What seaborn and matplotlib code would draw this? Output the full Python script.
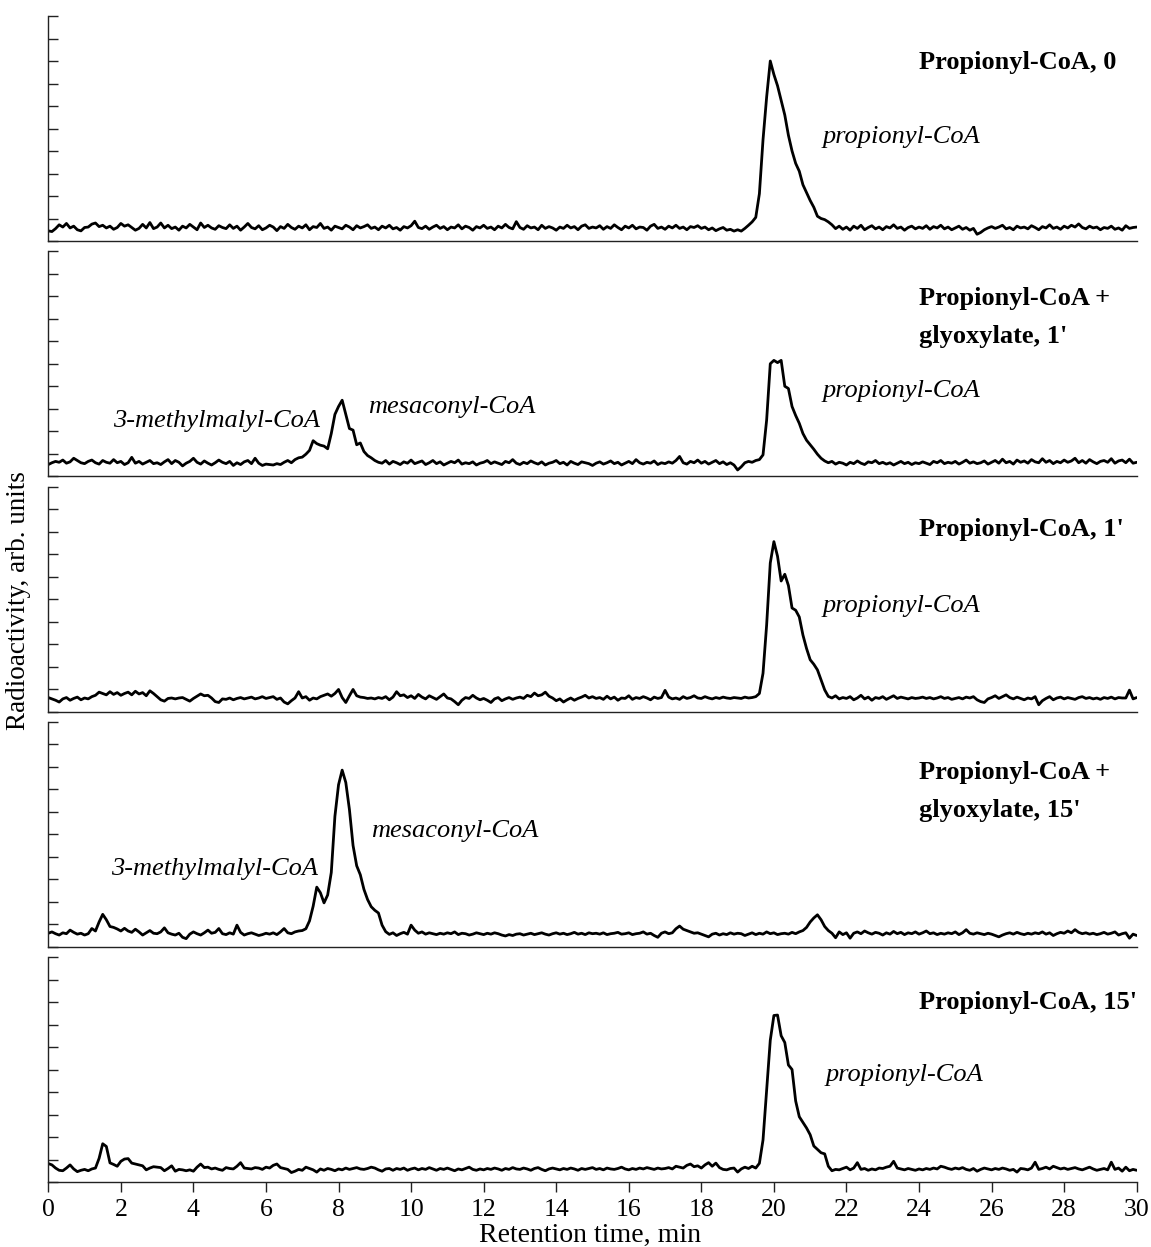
import numpy as np
import pandas as pd
import matplotlib
matplotlib.use("Agg")
import matplotlib.pyplot as plt
import seaborn as sns

# ---------------- data ----------------
time_min = np.round(np.arange(301) * 0.1, 1)   # retention time grid, min
x_ticks = list(range(0, 31, 2))

panel_titles = [
    ["Propionyl-CoA, 0"],
    ["Propionyl-CoA +", "glyoxylate, 1'"],
    ["Propionyl-CoA, 1'"],
    ["Propionyl-CoA +", "glyoxylate, 15'"],
    ["Propionyl-CoA, 15'"],
]

trace_p0 = [
    0.45, 0.42, 0.55, 0.72, 0.62, 0.78, 0.58, 0.66, 0.50, 0.45,
    0.60, 0.62, 0.75, 0.80, 0.64, 0.70, 0.58, 0.66, 0.52, 0.60,
    0.78, 0.66, 0.72, 0.60, 0.48, 0.56, 0.74, 0.58, 0.82, 0.55,
    0.62, 0.80, 0.58, 0.70, 0.55, 0.62, 0.48, 0.66, 0.58, 0.74,
    0.62, 0.50, 0.80, 0.60, 0.70, 0.58, 0.52, 0.68, 0.60, 0.55,
    0.72, 0.56, 0.66, 0.48, 0.62, 0.78, 0.60, 0.54, 0.68, 0.50,
    0.58, 0.70, 0.62, 0.46, 0.64, 0.56, 0.74, 0.60, 0.52, 0.66,
    0.58, 0.72, 0.50, 0.64, 0.60, 0.78, 0.56, 0.62, 0.48, 0.66,
    0.60, 0.54, 0.70, 0.62, 0.50, 0.68, 0.58, 0.64, 0.72, 0.56,
    0.62, 0.50, 0.66, 0.58, 0.70, 0.54, 0.60, 0.48, 0.64, 0.58,
    0.68, 0.88, 0.60, 0.55, 0.66, 0.52, 0.62, 0.70, 0.56, 0.64,
    0.50, 0.62, 0.58, 0.72, 0.54, 0.66, 0.60, 0.48, 0.64, 0.58,
    0.70, 0.56, 0.62, 0.50, 0.66, 0.58, 0.74, 0.60, 0.54, 0.86,
    0.60, 0.52, 0.68, 0.58, 0.62, 0.50, 0.70, 0.56, 0.64, 0.58,
    0.48, 0.62, 0.56, 0.70, 0.58, 0.64, 0.50, 0.66, 0.72, 0.56,
    0.62, 0.58, 0.68, 0.52, 0.64, 0.56, 0.72, 0.60, 0.50, 0.66,
    0.58, 0.70, 0.54, 0.62, 0.60, 0.48, 0.66, 0.74, 0.56, 0.62,
    0.52, 0.66, 0.58, 0.70, 0.56, 0.62, 0.50, 0.64, 0.60, 0.68,
    0.56, 0.62, 0.50, 0.58, 0.46, 0.54, 0.60, 0.48, 0.52, 0.44,
    0.50, 0.44, 0.56, 0.70, 0.85, 1.05, 2.10, 4.50, 6.40, 8.00,
    7.40, 6.90, 6.25, 5.60, 4.70, 4.00, 3.45, 3.10, 2.50, 2.15,
    1.80, 1.50, 1.10, 1.00, 0.95, 0.85, 0.72, 0.55, 0.66, 0.52,
    0.62, 0.48, 0.66, 0.56, 0.70, 0.50, 0.60, 0.68, 0.54, 0.62,
    0.50, 0.64, 0.58, 0.72, 0.56, 0.62, 0.48, 0.60, 0.66, 0.54,
    0.62, 0.56, 0.68, 0.52, 0.64, 0.58, 0.70, 0.54, 0.62, 0.50,
    0.58, 0.66, 0.52, 0.60, 0.48, 0.56, 0.30, 0.38, 0.50, 0.58,
    0.64, 0.56, 0.62, 0.70, 0.54, 0.60, 0.50, 0.66, 0.58, 0.62,
    0.54, 0.68, 0.60, 0.50, 0.64, 0.58, 0.72, 0.56, 0.62, 0.52,
    0.66, 0.58, 0.70, 0.62, 0.76, 0.60, 0.54, 0.66, 0.58, 0.62,
    0.50, 0.60, 0.56, 0.66, 0.52, 0.58, 0.48, 0.68, 0.56, 0.60,
    0.62,
]

trace_p1 = [
    0.52, 0.60, 0.66, 0.62, 0.72, 0.58, 0.64, 0.80, 0.70, 0.60,
    0.56, 0.66, 0.72, 0.60, 0.54, 0.70, 0.62, 0.58, 0.74, 0.60,
    0.66, 0.52, 0.60, 0.84, 0.58, 0.66, 0.54, 0.62, 0.70, 0.56,
    0.60, 0.52, 0.64, 0.74, 0.56, 0.70, 0.62, 0.46, 0.58, 0.66,
    0.80, 0.62, 0.54, 0.68, 0.58, 0.50, 0.60, 0.72, 0.62, 0.56,
    0.66, 0.48, 0.60, 0.52, 0.64, 0.70, 0.56, 0.80, 0.58, 0.48,
    0.54, 0.52, 0.50, 0.56, 0.52, 0.62, 0.70, 0.60, 0.74, 0.82,
    0.85, 0.98, 1.15, 1.58, 1.45, 1.38, 1.34, 1.22, 1.90, 2.75,
    3.10, 3.38, 2.75, 2.12, 2.05, 1.40, 1.48, 1.10, 0.92, 0.82,
    0.70, 0.62, 0.58, 0.70, 0.54, 0.66, 0.60, 0.52, 0.64, 0.58,
    0.72, 0.56, 0.62, 0.68, 0.52, 0.60, 0.70, 0.56, 0.64, 0.50,
    0.58, 0.66, 0.60, 0.72, 0.54, 0.60, 0.56, 0.64, 0.50, 0.58,
    0.62, 0.70, 0.56, 0.64, 0.58, 0.52, 0.66, 0.60, 0.74, 0.58,
    0.52, 0.62, 0.56, 0.68, 0.60, 0.54, 0.64, 0.50, 0.58, 0.62,
    0.70, 0.56, 0.62, 0.50, 0.66, 0.58, 0.52, 0.64, 0.60, 0.56,
    0.48, 0.58, 0.64, 0.54, 0.60, 0.68, 0.56, 0.62, 0.50, 0.58,
    0.66, 0.56, 0.74, 0.60, 0.54, 0.62, 0.58, 0.68, 0.52, 0.60,
    0.56, 0.64, 0.58, 0.70, 0.88, 0.60, 0.54, 0.66, 0.60, 0.72,
    0.58, 0.66, 0.54, 0.62, 0.70, 0.56, 0.64, 0.52, 0.60, 0.50,
    0.28, 0.42, 0.60, 0.66, 0.62, 0.70, 0.74, 0.95, 2.50, 5.00,
    5.15, 5.05, 5.15, 4.00, 3.90, 3.10, 2.70, 2.35, 1.90, 1.60,
    1.40, 1.20, 0.98, 0.80, 0.68, 0.60, 0.66, 0.54, 0.62, 0.58,
    0.50, 0.62, 0.56, 0.68, 0.58, 0.52, 0.64, 0.60, 0.70, 0.56,
    0.62, 0.54, 0.60, 0.50, 0.58, 0.66, 0.56, 0.62, 0.52, 0.60,
    0.56, 0.64, 0.58, 0.52, 0.66, 0.60, 0.70, 0.56, 0.62, 0.58,
    0.66, 0.54, 0.62, 0.72, 0.58, 0.64, 0.56, 0.60, 0.68, 0.54,
    0.62, 0.70, 0.58, 0.76, 0.60, 0.66, 0.54, 0.72, 0.62, 0.68,
    0.58, 0.74, 0.64, 0.60, 0.78, 0.62, 0.70, 0.56, 0.66, 0.60,
    0.72, 0.62, 0.68, 0.80, 0.60, 0.70, 0.58, 0.74, 0.64, 0.56,
    0.66, 0.70, 0.62, 0.78, 0.58, 0.68, 0.72, 0.60, 0.76, 0.58,
    0.62,
]

trace_p2 = [
    0.62, 0.56, 0.50, 0.42, 0.56, 0.62, 0.50, 0.58, 0.64, 0.52,
    0.60, 0.56, 0.66, 0.72, 0.86, 0.80, 0.74, 0.88, 0.76, 0.84,
    0.72, 0.80, 0.86, 0.74, 0.90, 0.78, 0.84, 0.70, 0.92, 0.80,
    0.66, 0.52, 0.46, 0.58, 0.60, 0.56, 0.60, 0.62, 0.54, 0.46,
    0.58, 0.68, 0.78, 0.70, 0.72, 0.60, 0.44, 0.40, 0.56, 0.54,
    0.60, 0.52, 0.58, 0.62, 0.56, 0.60, 0.64, 0.56, 0.60, 0.66,
    0.58, 0.62, 0.66, 0.54, 0.60, 0.42, 0.34, 0.48, 0.60, 0.88,
    0.60, 0.66, 0.50, 0.60, 0.56, 0.66, 0.72, 0.78, 0.68, 0.80,
    0.98, 0.62, 0.40, 0.70, 0.98, 0.70, 0.64, 0.62, 0.58, 0.60,
    0.56, 0.62, 0.58, 0.66, 0.52, 0.64, 0.88, 0.70, 0.74, 0.62,
    0.70, 0.58, 0.76, 0.64, 0.56, 0.70, 0.62, 0.54, 0.66, 0.78,
    0.60, 0.56, 0.44, 0.30, 0.50, 0.62, 0.58, 0.72, 0.60, 0.52,
    0.58, 0.50, 0.40, 0.56, 0.62, 0.48, 0.56, 0.62, 0.54, 0.60,
    0.64, 0.58, 0.72, 0.66, 0.82, 0.70, 0.74, 0.86, 0.68, 0.60,
    0.48, 0.56, 0.42, 0.52, 0.60, 0.50, 0.58, 0.64, 0.72, 0.60,
    0.66, 0.58, 0.62, 0.54, 0.68, 0.56, 0.64, 0.50, 0.60, 0.58,
    0.70, 0.54, 0.62, 0.58, 0.66, 0.60, 0.52, 0.64, 0.58, 0.62,
    0.94, 0.64, 0.56, 0.60, 0.54, 0.66, 0.58, 0.62, 0.70, 0.60,
    0.58, 0.66, 0.60, 0.56, 0.62, 0.58, 0.64, 0.60, 0.58, 0.62,
    0.60, 0.58, 0.64, 0.60, 0.62, 0.66, 0.80, 1.70, 3.85, 6.60,
    7.55, 6.90, 5.80, 6.10, 5.60, 4.60, 4.50, 4.20, 3.40, 2.80,
    2.30, 2.10, 1.85, 1.40, 0.96, 0.67, 0.60, 0.70, 0.56, 0.62,
    0.58, 0.66, 0.52, 0.60, 0.72, 0.56, 0.64, 0.50, 0.62, 0.58,
    0.66, 0.54, 0.62, 0.70, 0.58, 0.64, 0.60, 0.56, 0.62, 0.58,
    0.60, 0.64, 0.58, 0.62, 0.56, 0.60, 0.66, 0.58, 0.62, 0.54,
    0.58, 0.62, 0.56, 0.64, 0.60, 0.66, 0.52, 0.44, 0.40, 0.56,
    0.62, 0.70, 0.58, 0.66, 0.74, 0.62, 0.56, 0.64, 0.58, 0.52,
    0.60, 0.56, 0.66, 0.30, 0.48, 0.58, 0.66, 0.52, 0.60, 0.64,
    0.56, 0.62, 0.58, 0.54, 0.62, 0.66, 0.58, 0.62, 0.56, 0.60,
    0.54, 0.62, 0.58, 0.64, 0.56, 0.62, 0.60, 0.60, 0.95, 0.56,
    0.62,
]

trace_p3 = [
    0.60, 0.66, 0.58, 0.52, 0.62, 0.58, 0.74, 0.64, 0.56, 0.60,
    0.52, 0.58, 0.81, 0.70, 1.10, 1.44, 1.20, 0.90, 0.86, 0.79,
    0.70, 0.82, 0.70, 0.64, 0.78, 0.66, 0.52, 0.62, 0.72, 0.60,
    0.58, 0.66, 0.84, 0.62, 0.56, 0.52, 0.60, 0.42, 0.36, 0.56,
    0.66, 0.58, 0.52, 0.62, 0.74, 0.60, 0.64, 0.81, 0.58, 0.54,
    0.62, 0.56, 0.96, 0.64, 0.52, 0.58, 0.62, 0.56, 0.50, 0.54,
    0.60, 0.56, 0.62, 0.54, 0.66, 0.81, 0.62, 0.58, 0.66, 0.70,
    0.72, 0.80, 1.15, 1.80, 2.65, 2.40, 1.95, 2.30, 3.30, 5.80,
    7.20, 7.85, 7.30, 6.10, 4.50, 3.60, 3.20, 2.55, 2.10, 1.78,
    1.62, 1.50, 0.96, 0.67, 0.55, 0.62, 0.50, 0.58, 0.64, 0.56,
    0.96, 0.74, 0.60, 0.66, 0.56, 0.62, 0.58, 0.54, 0.60, 0.56,
    0.62, 0.58, 0.66, 0.54, 0.60, 0.58, 0.52, 0.56, 0.62, 0.58,
    0.54, 0.60, 0.56, 0.62, 0.58, 0.52, 0.48, 0.54, 0.50, 0.56,
    0.58, 0.52, 0.56, 0.60, 0.54, 0.58, 0.62, 0.56, 0.52, 0.58,
    0.62, 0.56, 0.60, 0.54, 0.58, 0.64, 0.56, 0.60, 0.54, 0.62,
    0.58, 0.60, 0.56, 0.62, 0.54, 0.58, 0.60, 0.64, 0.56, 0.58,
    0.62, 0.54, 0.58, 0.60, 0.66, 0.56, 0.60, 0.50, 0.42, 0.60,
    0.66, 0.58, 0.62, 0.80, 0.92, 0.78, 0.72, 0.66, 0.60, 0.62,
    0.56, 0.50, 0.44, 0.56, 0.60, 0.52, 0.58, 0.54, 0.62, 0.56,
    0.60, 0.58, 0.50, 0.56, 0.62, 0.54, 0.60, 0.56, 0.66, 0.58,
    0.62, 0.54, 0.58, 0.60, 0.56, 0.64, 0.58, 0.66, 0.72, 0.86,
    1.10, 1.28, 1.42, 1.20, 0.90, 0.72, 0.60, 0.40, 0.66, 0.54,
    0.62, 0.38, 0.60, 0.66, 0.58, 0.70, 0.62, 0.56, 0.64, 0.60,
    0.52, 0.62, 0.56, 0.68, 0.58, 0.64, 0.54, 0.62, 0.58, 0.66,
    0.56, 0.62, 0.70, 0.58, 0.62, 0.54, 0.60, 0.56, 0.62, 0.58,
    0.66, 0.54, 0.62, 0.76, 0.60, 0.56, 0.62, 0.58, 0.54, 0.60,
    0.56, 0.50, 0.44, 0.52, 0.58, 0.62, 0.56, 0.64, 0.58, 0.54,
    0.60, 0.56, 0.62, 0.58, 0.66, 0.56, 0.62, 0.50, 0.58, 0.64,
    0.60, 0.70, 0.62, 0.76, 0.64, 0.58, 0.62, 0.56, 0.60, 0.54,
    0.58, 0.64, 0.56, 0.60, 0.66, 0.52, 0.58, 0.62, 0.38, 0.56,
    0.50,
]

trace_p4 = [
    0.82, 0.76, 0.62, 0.52, 0.50, 0.62, 0.76, 0.58, 0.46, 0.52,
    0.56, 0.50, 0.58, 0.62, 1.05, 1.70, 1.58, 0.85, 0.78, 0.70,
    0.92, 1.02, 1.04, 0.84, 0.80, 0.76, 0.72, 0.54, 0.62, 0.68,
    0.66, 0.64, 0.50, 0.60, 0.72, 0.48, 0.56, 0.54, 0.50, 0.54,
    0.48, 0.66, 0.80, 0.64, 0.66, 0.58, 0.62, 0.56, 0.52, 0.64,
    0.60, 0.58, 0.70, 0.86, 0.62, 0.60, 0.58, 0.64, 0.62, 0.56,
    0.66, 0.62, 0.74, 0.80, 0.64, 0.60, 0.56, 0.42, 0.48, 0.56,
    0.52, 0.66, 0.60, 0.54, 0.44, 0.58, 0.52, 0.60, 0.56, 0.50,
    0.58, 0.54, 0.62, 0.56, 0.60, 0.64, 0.58, 0.56, 0.60, 0.66,
    0.62, 0.54, 0.48, 0.58, 0.60, 0.52, 0.60, 0.56, 0.62, 0.52,
    0.58, 0.62, 0.54, 0.60, 0.56, 0.64, 0.58, 0.52, 0.60, 0.56,
    0.62, 0.56, 0.50, 0.58, 0.54, 0.60, 0.66, 0.56, 0.52, 0.58,
    0.54, 0.60, 0.56, 0.62, 0.58, 0.52, 0.60, 0.56, 0.64, 0.58,
    0.56, 0.62, 0.58, 0.52, 0.60, 0.64, 0.56, 0.50, 0.58, 0.62,
    0.58, 0.54, 0.60, 0.56, 0.62, 0.58, 0.52, 0.60, 0.56, 0.60,
    0.64, 0.56, 0.60, 0.54, 0.62, 0.58, 0.56, 0.60, 0.66, 0.58,
    0.54, 0.60, 0.56, 0.62, 0.58, 0.64, 0.60, 0.56, 0.62, 0.58,
    0.60, 0.64, 0.58, 0.70, 0.66, 0.62, 0.74, 0.80, 0.68, 0.72,
    0.62, 0.76, 0.86, 0.70, 0.84, 0.64, 0.56, 0.54, 0.60, 0.62,
    0.44, 0.58, 0.66, 0.60, 0.70, 0.62, 0.83, 1.87, 4.10, 6.30,
    7.40, 7.42, 6.50, 6.20, 5.20, 5.00, 3.60, 2.90, 2.65, 2.40,
    2.10, 1.60, 1.45, 1.30, 1.25, 0.70, 0.50, 0.56, 0.54, 0.60,
    0.66, 0.54, 0.62, 0.86, 0.56, 0.60, 0.52, 0.58, 0.54, 0.62,
    0.60, 0.66, 0.70, 0.92, 0.62, 0.58, 0.54, 0.60, 0.56, 0.52,
    0.58, 0.54, 0.60, 0.56, 0.62, 0.58, 0.70, 0.66, 0.60, 0.56,
    0.62, 0.58, 0.64, 0.56, 0.52, 0.60, 0.48, 0.56, 0.62, 0.58,
    0.54, 0.60, 0.56, 0.62, 0.58, 0.52, 0.56, 0.44, 0.60, 0.58,
    0.54, 0.62, 0.88, 0.56, 0.60, 0.66, 0.58, 0.70, 0.64, 0.58,
    0.62, 0.56, 0.60, 0.64, 0.58, 0.54, 0.60, 0.66, 0.58, 0.52,
    0.56, 0.60, 0.54, 0.88, 0.56, 0.62, 0.48, 0.66, 0.50, 0.56,
    0.52,
]

traces = [trace_p0, trace_p1, trace_p2, trace_p3, trace_p4]

# italic peak labels: (panel, text, x in min, y in panel units)
peak_labels = [
    (0, "propionyl-CoA", 21.33, 4.6),
    (1, "3-methylmalyl-CoA", 1.78, 2.45),
    (1, "mesaconyl-CoA", 8.81, 3.1),
    (1, "propionyl-CoA", 21.33, 3.8),
    (2, "propionyl-CoA", 21.33, 4.7),
    (3, "3-methylmalyl-CoA", 1.73, 3.45),
    (3, "mesaconyl-CoA", 8.9, 5.15),
    (4, "propionyl-CoA", 21.41, 4.75),
]

# ---------------- figure ----------------
sns.set_style("ticks")
plt.rcParams["font.family"] = ["Liberation Serif", "DejaVu Serif"]
plt.rcParams["axes.linewidth"] = 1.0
plt.rcParams["axes.edgecolor"] = "#222222"
plt.rcParams["text.color"] = "black"
plt.rcParams["xtick.color"] = "#222222"
plt.rcParams["xtick.labelcolor"] = "black"

W, H = 1151, 1247
fig = plt.figure(figsize=(W / 100, H / 100), dpi=100)

left_px, right_px = 48.3, 1136.7
panel_h = 225.0
pitch = 235.25
last_bottom = 1182.0

title_y = [[7.94], [7.9, 6.2], [8.1], [7.73, 6.04], [7.96]]

for i, tr in enumerate(traces):
    assert len(tr) == len(time_min)
    bottom_px = last_bottom - (4 - i) * pitch
    ax = fig.add_axes([left_px / W, (H - bottom_px) / H,
                       (right_px - left_px) / W, panel_h / H])
    df = pd.DataFrame({"time": time_min, "signal": tr})
    sns.lineplot(data=df, x="time", y="signal", ax=ax, color="black",
                 linewidth=2.0, estimator=None, sort=False)
    ax.set_xlim(0, 30)
    ax.set_ylim(0, 10)
    ax.set_yticks(range(0, 11))
    ax.set_yticklabels([])
    ax.tick_params(axis="y", direction="in", length=7, width=1.0,
                   color="#222222")
    ax.spines["top"].set_visible(False)
    ax.spines["right"].set_visible(False)
    ax.set_xlabel("")
    ax.set_ylabel("")
    if i < 4:
        ax.tick_params(axis="x", bottom=False, labelbottom=False)
    else:
        ax.set_xticks(x_ticks)
        ax.set_xticklabels([str(t) for t in x_ticks])
        ax.tick_params(axis="x", direction="out", length=7, width=1.0,
                       labelsize=18.5, pad=5)
    for line, yy in zip(panel_titles[i], title_y[i]):
        ax.text(24.0, yy, line, ha="left", va="center", fontsize=19,
                fontweight="bold", color="black")
    for (p, txt, xx, yy) in peak_labels:
        if p == i:
            ax.text(xx, yy, txt, ha="left", va="center", fontsize=19,
                    fontstyle="italic", color="black")

fig.text(19 / W, 1 - 601 / H, "Radioactivity, arb. units", rotation=90,
         ha="center", va="center", fontsize=19.5, color="black")
fig.text(590 / W, 1 - 1235 / H, "Retention time, min", ha="center",
         va="center", fontsize=20, color="black")

fig.savefig("out.png", dpi=100)
